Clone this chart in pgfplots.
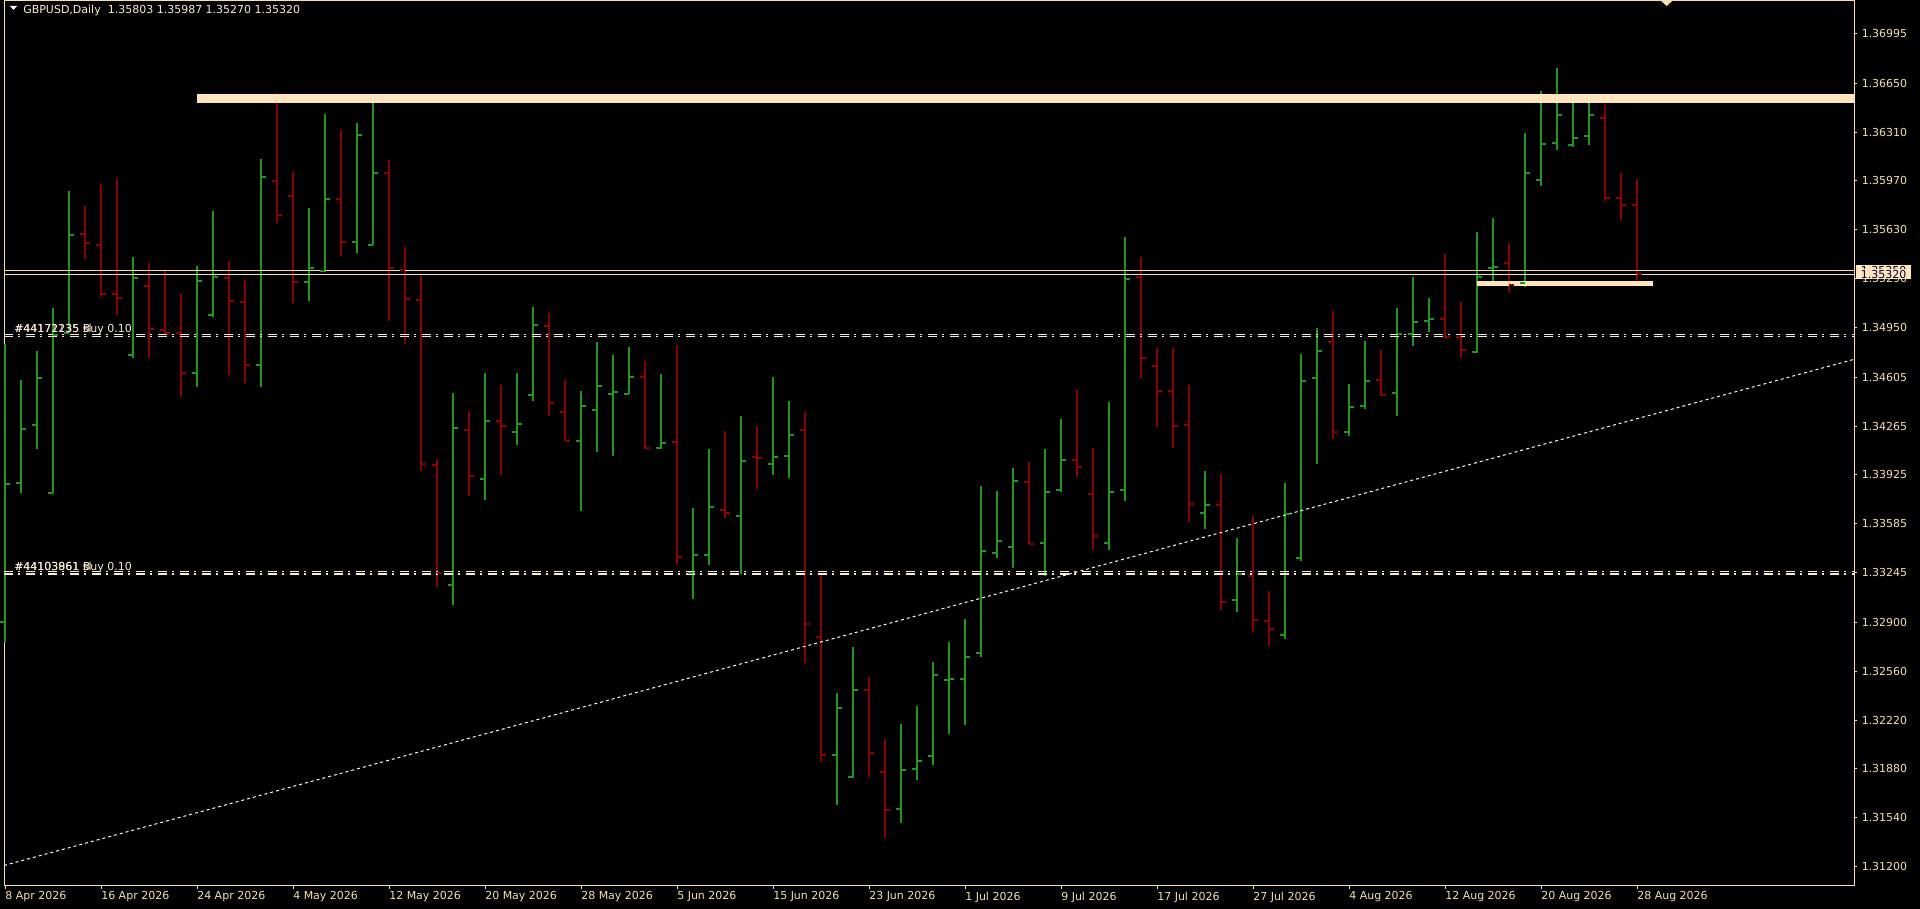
\documentclass[border=0pt]{standalone}
\usepackage{pgfplots}
\pgfplotsset{compat=1.18}
\usepackage{pgfplotstable}
\usepackage{fontspec}
\setmainfont{DejaVu Sans}

\definecolor{upc}{RGB}{34,148,34}
\definecolor{dnc}{RGB}{140,0,0}
\definecolor{fg}{RGB}{245,222,179}
\definecolor{band}{RGB}{255,228,190}
\definecolor{lbl}{RGB}{250,235,215}

\pgfdeclareplotmark{otick}{\pgfpathmoveto{\pgfqpoint{-3.75pt}{0pt}}\pgfpathlineto{\pgfqpoint{0pt}{0pt}}\pgfusepathqstroke}
\pgfdeclareplotmark{ctick}{\pgfpathmoveto{\pgfqpoint{0pt}{0pt}}\pgfpathlineto{\pgfqpoint{3.75pt}{0pt}}\pgfusepathqstroke}

\newcommand{\fs}{\fontsize{8.25pt}{9.9pt}\selectfont}

\pgfplotstableread{
i o h l c
0 1.32900 1.34837 1.32761 1.33862
1 1.33870 1.34587 1.33801 1.34245
2 1.34273 1.34789 1.34104 1.34596
3 1.33801 1.35088 1.33801 1.34898
4 1.34910 1.35902 1.34910 1.35596
8 1.34757 1.35442 1.34741 1.35297
12 1.34636 1.35378 1.34535 1.35277
13 1.35039 1.35761 1.35027 1.35301
16 1.34692 1.36124 1.34535 1.35995
19 1.35269 1.35781 1.35132 1.35362
20 1.35346 1.36434 1.35338 1.35846
22 1.35543 1.36370 1.35467 1.36293
23 1.35527 1.36535 1.35527 1.36027
28 1.33160 1.34495 1.33019 1.34249
30 1.33898 1.34636 1.33749 1.34297
32 1.34221 1.34636 1.34132 1.34277
33 1.34483 1.35092 1.34438 1.34971
36 1.34164 1.34511 1.33672 1.34402
37 1.34378 1.34850 1.34083 1.34543
38 1.34490 1.34761 1.34059 1.34500
39 1.34487 1.34813 1.34487 1.34604
41 1.34112 1.34628 1.34104 1.34148
43 1.33241 1.33696 1.33059 1.33366
44 1.33366 1.34104 1.33297 1.33704
46 1.33636 1.34333 1.33237 1.34023
48 1.34003 1.34608 1.33922 1.34047
49 1.34059 1.34438 1.33902 1.34204
52 1.31978 1.32410 1.31628 1.32301
53 1.31821 1.32728 1.31817 1.32430
56 1.31599 1.32192 1.31507 1.31874
57 1.31882 1.32317 1.31801 1.31938
58 1.31970 1.32624 1.31906 1.32535
59 1.32499 1.32765 1.32120 1.32505
60 1.32503 1.32922 1.32184 1.32660
61 1.32684 1.33850 1.32656 1.33394
62 1.33382 1.33813 1.33345 1.33462
63 1.33426 1.33975 1.33281 1.33886
65 1.33454 1.34104 1.33220 1.33809
66 1.33817 1.34313 1.33809 1.34027
69 1.33450 1.34434 1.33406 1.33809
70 1.33821 1.35580 1.33741 1.35289
75 1.33660 1.33954 1.33547 1.33716
77 1.33055 1.33487 1.32974 1.33233
80 1.32813 1.33870 1.32781 1.33656
81 1.33345 1.34769 1.33329 1.34579
82 1.34596 1.34946 1.33999 1.34785
84 1.34225 1.34559 1.34196 1.34398
85 1.34402 1.34858 1.34382 1.34579
87 1.34495 1.35088 1.34338 1.34906
88 1.34906 1.35301 1.34821 1.34991
89 1.34999 1.35156 1.34918 1.35007
92 1.34777 1.35616 1.34773 1.35301
93 1.35362 1.35713 1.35253 1.35374
95 1.35257 1.36305 1.35233 1.36023
96 1.35975 1.36596 1.35938 1.36225
97 1.36233 1.36757 1.36184 1.36426
98 1.36221 1.36559 1.36209 1.36269
99 1.36285 1.36547 1.36217 1.36430
}\upbars

\pgfplotstableread{
i o h l c
5 1.35604 1.35797 1.35426 1.35539
6 1.35527 1.35951 1.35160 1.35184
7 1.35184 1.35991 1.35039 1.35156
9 1.35241 1.35398 1.34741 1.34942
10 1.34934 1.35350 1.34902 1.34914
11 1.34910 1.35184 1.34467 1.34636
14 1.35297 1.35414 1.34620 1.35136
15 1.35128 1.35281 1.34567 1.34692
17 1.35971 1.36584 1.35680 1.35733
18 1.35866 1.36031 1.35120 1.35269
21 1.35846 1.36326 1.35446 1.35543
24 1.36027 1.36116 1.34999 1.35362
25 1.35354 1.35511 1.34837 1.35152
26 1.35144 1.35317 1.33950 1.33999
27 1.33991 1.34035 1.33148 1.33241
29 1.34241 1.34370 1.33777 1.33918
31 1.34297 1.34551 1.33922 1.34265
34 1.34963 1.35051 1.34338 1.34422
35 1.34366 1.34587 1.34164 1.34164
40 1.34604 1.34717 1.34104 1.34112
42 1.34156 1.34829 1.33297 1.33357
45 1.33684 1.34233 1.33628 1.33660
47 1.34047 1.34265 1.33829 1.34040
50 1.34241 1.34362 1.32615 1.32886
51 1.32801 1.33245 1.31926 1.31978
54 1.32430 1.32519 1.31825 1.31994
55 1.31861 1.32087 1.31398 1.31591
64 1.33874 1.34015 1.33446 1.33446
67 1.34031 1.34515 1.33910 1.33979
68 1.33789 1.34112 1.33402 1.33503
71 1.35301 1.35442 1.34596 1.34741
72 1.34684 1.34809 1.34257 1.34507
73 1.34507 1.34809 1.34112 1.34265
74 1.34273 1.34551 1.33595 1.33720
76 1.33716 1.33930 1.32983 1.33043
78 1.33225 1.33636 1.32829 1.32914
79 1.32906 1.33116 1.32732 1.32853
83 1.34850 1.35067 1.34172 1.34225
86 1.34588 1.34793 1.34471 1.34483
90 1.35011 1.35459 1.34878 1.34886
91 1.34882 1.35128 1.34741 1.34797
94 1.35402 1.35539 1.35196 1.35249
100 1.36410 1.36499 1.35830 1.35854
101 1.35854 1.36027 1.35700 1.35805
102 1.35803 1.35987 1.35270 1.35320
}\dnbars

\begin{document}
\begin{tikzpicture}[font=\fs]
\fill[black] (0,0) rectangle (1440pt,681.75pt);
\begin{axis}[
  at={(3pt,17.25pt)}, anchor=south west,
  scale only axis, width=1387.5pt, height=664.125pt,
  xmin=-0.0625, xmax=115.5625,
  ymin=1.310655, ymax=1.372254,
  axis line style={fg, line width=0.75pt},
  tick align=outside,
  major tick length=2.6pt,
  tick style={fg, line width=0.75pt},
  xtick pos=left, ytick pos=right,
  xticklabel pos=left, yticklabel pos=right,
  xtick={0,6,...,102},
  xticklabels={8 Apr 2026,16 Apr 2026,24 Apr 2026,4 May 2026,12 May 2026,20 May 2026,28 May 2026,5 Jun 2026,15 Jun 2026,23 Jun 2026,1 Jul 2026,9 Jul 2026,17 Jul 2026,27 Jul 2026,4 Aug 2026,12 Aug 2026,20 Aug 2026,28 Aug 2026},
  ytick={1.31200,1.31540,1.31880,1.32220,1.32560,1.32900,1.33245,1.33585,1.33925,1.34265,1.34605,1.34950,1.35290,1.35630,1.35970,1.36310,1.36650,1.36995},
  yticklabels={1.31200,1.31540,1.31880,1.32220,1.32560,1.32900,1.33245,1.33585,1.33925,1.34265,1.34605,1.34950,1.35290,1.35630,1.35970,1.36310,1.36650,1.36995},
  xticklabel style={anchor=north west, inner sep=0pt, font=\fs, text=fg, yshift=-1.5pt},
  yticklabel style={anchor=west, inner sep=0pt, font=\fs, text=fg, xshift=3pt},
  axis background/.style={fill=black},
]
% up bars
\addplot[upc, only marks, mark=otick, every mark/.append style={line width=1.5pt, solid},
  error bars/.cd, y dir=both, y explicit, error mark=none,
  error bar style={upc, line width=1.5pt, solid}]
  table[x=i, y=o, y error plus expr=\thisrow{h}-\thisrow{o}, y error minus expr=\thisrow{o}-\thisrow{l}] {\upbars};
\addplot[upc, only marks, mark=ctick, every mark/.append style={line width=1.5pt, solid}]
  table[x=i, y=c] {\upbars};
% down bars
\addplot[dnc, only marks, mark=otick, every mark/.append style={line width=1.5pt, solid},
  error bars/.cd, y dir=both, y explicit, error mark=none,
  error bar style={dnc, line width=1.5pt, solid}]
  table[x=i, y=o, y error plus expr=\thisrow{h}-\thisrow{o}, y error minus expr=\thisrow{o}-\thisrow{l}] {\dnbars};
\addplot[dnc, only marks, mark=ctick, every mark/.append style={line width=1.5pt, solid}]
  table[x=i, y=c] {\dnbars};
% trend line
\addplot[white!90!fg, line width=0.75pt, dash pattern=on 2.25pt off 2.25pt] coordinates {(-0.0625,1.31208) (115.5625,1.34729)};
% bands
\addplot[draw=none, fill=band] coordinates {(12,1.36511) (116,1.36511) (116,1.36576) (12,1.36576)} -- cycle;
\addplot[draw=none, fill=band] coordinates {(92,1.35237) (103,1.35237) (103,1.35273) (92,1.35273)} -- cycle;
% bid / ask
\addplot[fg, line width=0.75pt] coordinates {(-1,1.35320) (117,1.35320)};
\addplot[fg, line width=0.75pt] coordinates {(-1,1.35350) (117,1.35350)};
% order lines
\addplot[lbl, line width=0.9pt, dash pattern=on 6.5pt off 4.25pt on 1.5pt off 4.25pt] coordinates {(-0.0625,1.34904) (116,1.34904)};
\addplot[lbl, line width=0.9pt, dash pattern=on 6.5pt off 4.25pt on 1.5pt off 4.25pt] coordinates {(-0.0625,1.34886) (116,1.34886)};
\addplot[lbl, line width=0.9pt, dash pattern=on 6.5pt off 4.25pt on 1.5pt off 4.25pt] coordinates {(-0.0625,1.33252) (116,1.33252)};
\addplot[lbl, line width=0.9pt, dash pattern=on 6.5pt off 4.25pt on 1.5pt off 4.25pt] coordinates {(-0.0625,1.33236) (116,1.33236)};
\coordinate (u1) at (axis cs:0.5625,1.34904);
\coordinate (u2) at (axis cs:0.5625,1.33252);
\coordinate (ask) at (axis cs:115.5625,1.35350);
\coordinate (bid) at (axis cs:115.5625,1.35320);
\end{axis}
% order labels
\node[anchor=base west, inner sep=0pt, text=lbl, yshift=1pt] at (u1) {\#44172235 Buy 0.10};
\node[anchor=base west, inner sep=0pt, text=lbl, yshift=1pt] at (u1) {\#44171135 sl};
\node[anchor=base west, inner sep=0pt, text=lbl, yshift=1pt] at (u2) {\#44103961 Buy 0.10};
\node[anchor=base west, inner sep=0pt, text=lbl, yshift=1pt] at (u2) {\#44103861 sl};
% price boxes
\fill[band] ([xshift=1.5pt,yshift=3.5pt]ask) rectangle ([xshift=42.75pt,yshift=-3.5pt]bid);
\node[anchor=west, inner sep=0pt, text=black!80!blue, xshift=5pt] at (ask) {1.35350};
\node[anchor=west, inner xsep=0pt, inner ysep=0.6pt, fill=band, text=black!80!blue, xshift=5pt] at (bid) {1.35320};
% title
\fill[white] (7.5pt,677.25pt) -- (12.75pt,677.25pt) -- (10.125pt,674.25pt) -- cycle;
\node[anchor=west, inner sep=0pt, text=lbl] at (17.25pt,673.9pt) {GBPUSD,Daily\ \ 1.35803 1.35987 1.35270 1.35320};
% shift marker
\fill[fg] (1245pt,681.75pt) -- (1255pt,681.75pt) -- (1250pt,677.25pt) -- cycle;
\end{tikzpicture}
\end{document}
